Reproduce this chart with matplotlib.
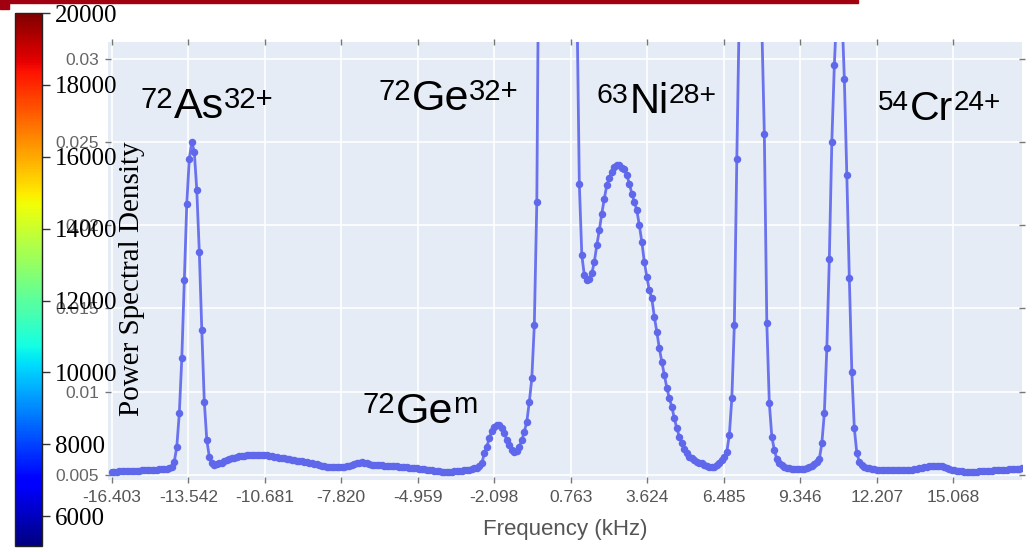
import numpy as np
import matplotlib
matplotlib.use("Agg")
import matplotlib.pyplot as plt
from matplotlib import colors, cm
from matplotlib.patches import Rectangle

# ---------------- data (PSD in units of 1e-3) ----------------
freq_start = -16.403      # kHz, first FFT bin
freq_step = 0.0935        # kHz, bin width

psd_base_left = [5.2, 5.2, 5.21, 5.22, 5.22, 5.23, 5.24, 5.24, 5.25, 5.26, 5.27, 5.27,
                 5.28, 5.29, 5.3, 5.3, 5.31, 5.32, 5.33, 5.34, 5.35, 5.36, 5.38, 5.42]
psd_as_peak = [5.5, 5.8, 6.7, 8.7, 12.0, 16.7, 21.3, 24.0, 25.0, 24.4, 22.1, 18.4,
               13.7, 9.4, 7.1, 6.1, 5.7]
psd_as_to_gem = [5.6, 5.65, 5.7, 5.75, 5.85, 5.9, 5.95, 6.0, 6.05, 6.1, 6.12, 6.15,
                 6.17, 6.19, 6.2, 6.2, 6.21, 6.21, 6.2, 6.2, 6.19, 6.18, 6.15, 6.13,
                 6.1, 6.08, 6.05, 6.03, 6.0, 5.98, 5.95, 5.93, 5.9, 5.87, 5.85, 5.82,
                 5.8, 5.78, 5.75, 5.7, 5.67, 5.64, 5.6, 5.57, 5.54, 5.5, 5.48, 5.46,
                 5.46, 5.46, 5.47, 5.48, 5.5, 5.53, 5.57, 5.62, 5.67, 5.72, 5.75, 5.76,
                 5.74, 5.7, 5.66, 5.63, 5.62, 5.6, 5.6, 5.58, 5.57, 5.56, 5.55, 5.54,
                 5.53, 5.52, 5.5, 5.49, 5.48, 5.46, 5.44, 5.43, 5.41, 5.4, 5.38, 5.36,
                 5.34, 5.32, 5.3, 5.28, 5.26, 5.24, 5.22, 5.21, 5.2, 5.2, 5.2, 5.21,
                 5.22, 5.23, 5.25, 5.27, 5.29, 5.31, 5.33, 5.36, 5.4, 5.45, 5.55, 5.7]
psd_gem_peak = [6.3, 6.7, 7.2, 7.65, 7.9, 8.0, 8.0, 7.8, 7.5, 7.1, 6.8, 6.5, 6.4, 6.45,
                6.7, 7.1, 7.6, 8.2, 9.4, 10.8, 14.0, 21.4]
psd_ge_peak = [42, 150, 400, 800, 1200, 1500, 1500, 1200, 800, 400, 200, 110, 70, 50,
               40, 34]
psd_ni_shoulder = [22.5, 18.2, 17.0, 16.7, 16.75, 17.1, 17.8, 18.8, 19.7, 20.7, 21.6,
                   22.4, 22.85, 23.2, 23.5, 23.6, 23.6, 23.45, 23.35, 23.0, 22.5, 21.9,
                   21.4, 20.9, 20.0, 19.0, 17.8, 16.9, 16.1, 15.6, 14.5, 13.6, 12.6,
                   11.8, 11.0, 10.25, 9.6, 9.1, 8.4, 7.8, 7.3, 6.9, 6.55]
psd_ni_valley = [6.3, 6.1, 6.0, 5.9, 5.8, 5.7, 5.7, 5.6, 5.55, 5.5, 5.5, 5.5, 5.6, 5.75,
                 5.9, 6.1, 6.4, 7.4, 9.6, 14.0, 24.0]
psd_ni_peak = [33, 80, 200, 400, 600, 600, 400, 200, 80, 32]
psd_cr_region = [25.5, 14.1, 9.3, 7.3, 6.5, 5.95, 5.75, 5.6, 5.5, 5.45, 5.4, 5.38, 5.36,
                 5.35, 5.35, 5.36, 5.38, 5.42, 5.48, 5.55, 5.65, 5.8, 5.95, 6.9, 8.7,
                 12.6, 18.0, 25.0, 29.6, 33, 35, 33, 28.8, 23.0, 16.8, 11.2, 7.8, 6.3, 5.8]
psd_base_right = [5.6, 5.5, 5.45, 5.4, 5.38, 5.35, 5.33, 5.32, 5.31, 5.3, 5.3, 5.3, 5.3,
                  5.3, 5.3, 5.3, 5.3, 5.3, 5.31, 5.32, 5.33, 5.35, 5.37, 5.4, 5.43, 5.47,
                  5.5, 5.53, 5.55, 5.56, 5.56, 5.55, 5.52, 5.48, 5.43, 5.38, 5.33, 5.29,
                  5.26, 5.24, 5.22, 5.21, 5.2, 5.2, 5.2, 5.2, 5.21, 5.22, 5.23, 5.24, 5.25,
                  5.26, 5.27, 5.28, 5.29, 5.3, 5.31, 5.32, 5.33, 5.34, 5.35, 5.36, 5.37,
                  5.38, 5.4]

xtick_values = [-16.403, -13.542, -10.681, -7.820, -4.959, -2.098, 0.763, 3.624,
                6.485, 9.346, 12.207, 15.068]
xtick_labels = ["-16.403", "-13.542", "-10.681", "-7.820", "-4.959", "-2.098", "0.763",
                "3.624", "6.485", "9.346", "12.207", "15.068"]
ytick_values = [0.005, 0.01, 0.015, 0.02, 0.025, 0.03]
ytick_labels = ["0.005", "0.01", "0.015", "0.02", "0.025", "0.03"]
cbar_ticks = [6000, 8000, 10000, 12000, 14000, 16000, 18000, 20000]
cbar_min, cbar_max = 5170, 20000

# peak labels: (mass number, element, charge / state)
peak_labels = [("72", "As", "32+"), ("72", "Ge", "32+"), ("63", "Ni", "28+"),
               ("54", "Cr", "24+"), ("72", "Ge", "m")]

psd_milli = np.array(psd_base_left + psd_as_peak + psd_as_to_gem + psd_gem_peak +
                     psd_ge_peak + psd_ni_shoulder + psd_ni_valley + psd_ni_peak +
                     psd_cr_region + psd_base_right)
psd = psd_milli * 1e-3
freq = freq_start + freq_step * np.arange(len(psd))

# ---------------- figure ----------------
plt.rcParams["font.family"] = ["Liberation Sans", "DejaVu Sans"]

W, H = 1032, 552
fig = plt.figure(figsize=(W / 100, H / 100), dpi=100)
fig.patch.set_facecolor("white")
renderer = fig.canvas.get_renderer()


def fx(px):
    return px / W


def fy(py):
    return 1 - py / H


ax = fig.add_axes([fx(108), fy(480), (1022 - 108) / W, (480 - 42) / H])
ax.set_facecolor("#E5ECF6")
for s in ax.spines.values():
    s.set_visible(False)
ax.grid(True, color="white", lw=1.2)
ax.set_axisbelow(True)

ax.plot(freq, psd, color="#6a72ee", lw=2.0, marker="o", ms=5.4,
        mfc="#5f68ea", mec="none", zorder=3)

ax.set_xlim(-16.545, 17.637)
ax.set_ylim(0.0047, 0.031)
ax.set_xticks(xtick_values)
ax.set_xticklabels(xtick_labels)
ax.set_yticks(ytick_values)
ax.set_yticklabels(ytick_labels)
ax.tick_params(axis="both", direction="inout", length=5, width=1, color="#777777",
               labelsize=12.5, labelcolor="#555555", top=True, right=True)
ax.tick_params(axis="x", pad=5)
ax.tick_params(axis="y", pad=4, labelcolor="#666666")

fig.text(fx(565), fy(530), "Frequency (kHz)", ha="center", va="center",
         fontsize=16, color="#555555")

# colour bar overlay
cax = fig.add_axes([fx(15), fy(546), 27 / W, 533 / H])
sm = cm.ScalarMappable(norm=colors.Normalize(cbar_min, cbar_max), cmap="jet")
cb = fig.colorbar(sm, cax=cax, ticks=cbar_ticks)
cb.outline.set_linewidth(1.0)
cb.outline.set_edgecolor("#222222")
cb.ax.tick_params(labelsize=18, length=6, width=1, color="#333333", pad=3)
for t in cb.ax.get_yticklabels():
    t.set_fontfamily("Liberation Serif")
    t.set_color("black")

fig.text(fx(132), fy(279), "Power Spectral Density", rotation=90, ha="center",
         va="center", fontsize=21, family="Liberation Serif", color="black")


# peak annotations: superscript mass, element, superscript charge
def draw_isotope(mass, elem, charge, x_px, y_px, base):
    sup = base * 0.68
    rise = 0.235 * base * 100 / 72
    x = x_px
    for txt, size, dy, gap in ((mass, sup, rise, 1.0), (elem, base, 0, 0.0),
                               (charge, sup, rise, 0)):
        t = fig.text(fx(x), fy(y_px - dy), txt, ha="left", va="baseline",
                     fontsize=size, color="black")
        x += t.get_window_extent(renderer).width + gap


ann_pos = [(140, 118, 31), (378, 110, 31), (597, 113, 30), (878, 120, 29.5),
           (362, 423, 31)]
for (mass, elem, charge), (px, py, size) in zip(peak_labels, ann_pos):
    draw_isotope(mass, elem, charge, px, py, size)

# red decoration at top
fig.patches.append(Rectangle((0, fy(3)), 858 / W, 3 / H, transform=fig.transFigure,
                             color="#a0000f", zorder=5))
fig.patches.append(Rectangle((0, fy(9)), 9 / W, 9 / H, transform=fig.transFigure,
                             color="#a0000f", zorder=5))

fig.savefig("out.png", dpi=100)
